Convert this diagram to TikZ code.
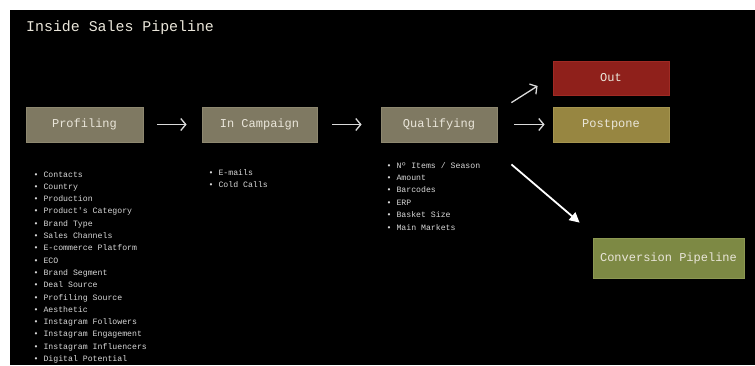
\documentclass[tikz,border=0pt]{standalone}
\usepackage{fontspec}
\setmonofont{Liberation Mono}
\usetikzlibrary{arrows.meta,calc}

\definecolor{bg}{HTML}{000000}
\definecolor{stage}{HTML}{7F7962}
\definecolor{stageedge}{HTML}{8E8870}
\definecolor{outred}{HTML}{8F201B}
\definecolor{outedge}{HTML}{A02A24}
\definecolor{postgold}{HTML}{978641}
\definecolor{postedge}{HTML}{A59550}
\definecolor{convgreen}{HTML}{7D8944}
\definecolor{convedge}{HTML}{8C9852}
\definecolor{boxtext}{HTML}{EAE6DA}
\definecolor{listtext}{HTML}{D8D8D8}
\definecolor{arrowcol}{HTML}{DADADA}

\tikzset{
  stagebox/.style={rectangle, inner sep=0pt, line width=0.8pt,
    minimum height=35pt, text=boxtext,
    font=\ttfamily\fontsize{12}{14}\selectfont},
  listitem/.style={anchor=base west, inner sep=0pt, text=listtext,
    font=\ttfamily\fontsize{8.2}{10}\selectfont},
  flow/.style={draw=arrowcol, line width=1.3pt,
    -{Straight Barb[length=5pt,width=12pt,line width=1.3pt]}},
  bigflow/.style={draw=white, line width=1.8pt,
    -{Triangle[length=10pt,width=10pt]}}
}

\begin{document}
\begin{tikzpicture}[x=1pt,y=-1pt]
  % canvas: white margin on the top and left, black panel
  \useasboundingbox (0,0) rectangle (755,365);
  \fill[white] (0,0) rectangle (755,365);
  \fill[bg] (10,10) rectangle (755,365);

  % title
  \node[anchor=base west, inner sep=0pt, text=boxtext,
        font=\ttfamily\fontsize{14.9}{17}\selectfont]
        (title) at (26,31) {Inside Sales Pipeline};

  % pipeline stages
  \node[stagebox, fill=stage, draw=stageedge, minimum width=117pt]
        (prof) at (84.5,124.5) {Profiling};
  \node[stagebox, fill=stage, draw=stageedge, minimum width=115pt]
        (camp) at (259.5,124.5) {In Campaign};
  \node[stagebox, fill=stage, draw=stageedge, minimum width=116pt]
        (qual) at (439,124.5) {Qualifying};
  \node[stagebox, fill=outred, draw=outedge, minimum width=116pt,
        minimum height=34pt]
        (out) at (611,78) {Out};
  \node[stagebox, fill=postgold, draw=postedge, minimum width=116pt]
        (post) at (611,124.5) {Postpone};
  \node[stagebox, fill=convgreen, draw=convedge, minimum width=151pt,
        minimum height=40pt]
        (conv) at (668.5,258) {Conversion Pipeline};

  % connectors
  \draw[flow, shorten <=14pt, shorten >=15pt] (prof.east) -- (camp.west);
  \draw[flow, shorten <=15pt, shorten >=19pt] (camp.east) -- (qual.west);
  \draw[flow, shorten <=17pt, shorten >=8pt] (qual.east) -- (post.west);
  \draw[flow] ($(qual.north east)+(14,-4)$) -- ($(out.west)+(-15,8)$);
  \draw[bigflow] ($(qual.south east)+(14,22)$) -- ($(conv.north west)+(-13,-15)$);

  % attribute lists
  \foreach \t [count=\i from 0] in {Contacts, Country, Production,
      Product's Category, Brand Type, Sales Channels, E-commerce Platform,
      ECO, Brand Segment, Deal Source, Profiling Source, Aesthetic,
      Instagram Followers, Instagram Engagement, Instagram Influencers,
      Digital Potential}
    \node[listitem] (pl\i) at (33.5,177+\i*12.3) {• \t};

  \foreach \t [count=\i from 0] in {E-mails, Cold Calls}
    \node[listitem] (cl\i) at (208.5,175+\i*12.3) {• \t};

  \foreach \t [count=\i from 0] in {Nº Items / Season, Amount, Barcodes,
      ERP, Basket Size, Main Markets}
    \node[listitem] (ql\i) at (386.5,168+\i*12.4) {• \t};
\end{tikzpicture}
\end{document}
